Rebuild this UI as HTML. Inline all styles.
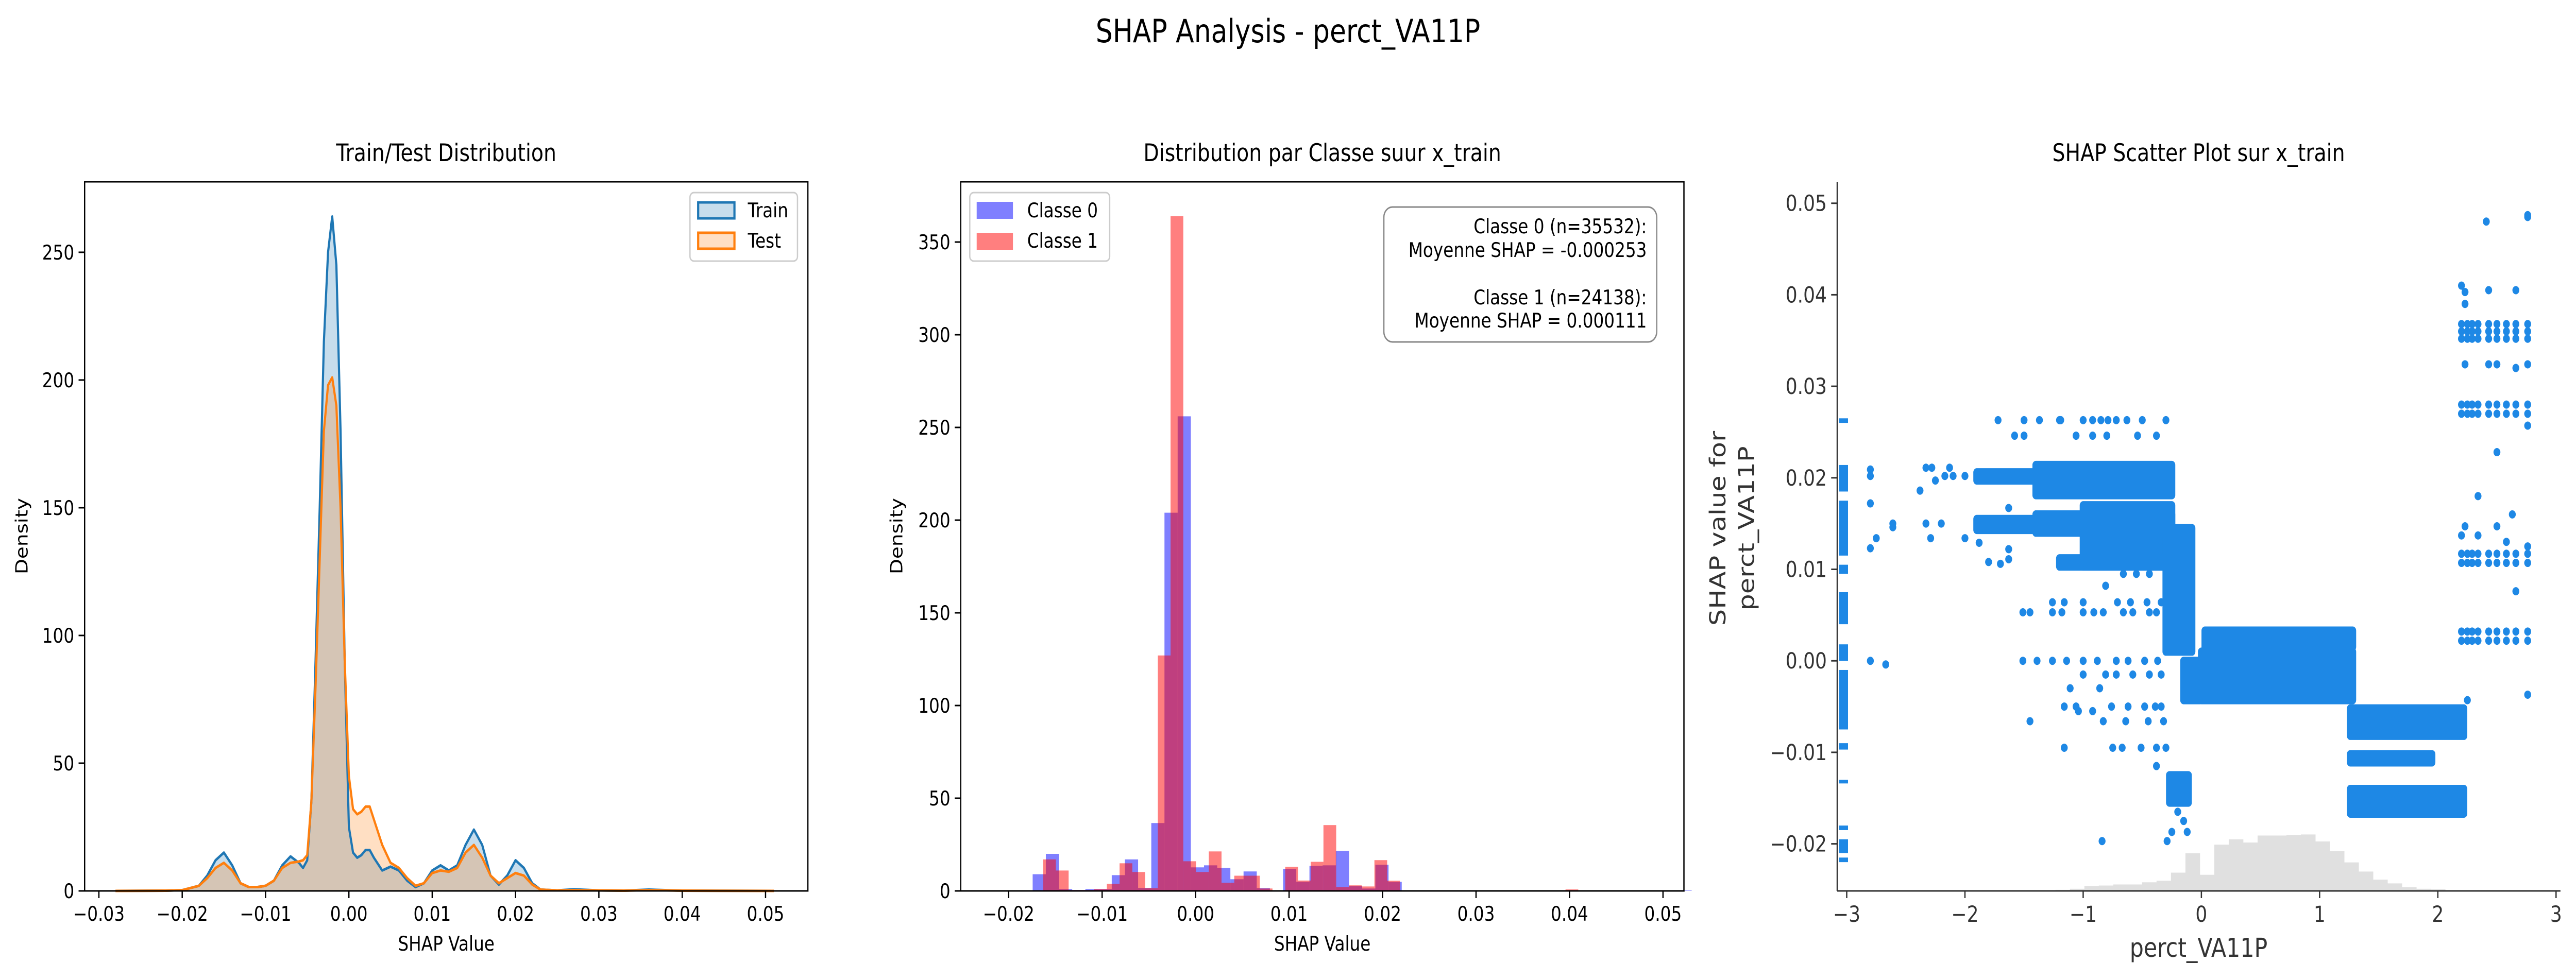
<!DOCTYPE html>
<html><head><meta charset="utf-8"><title>SHAP Analysis - perct_VA11P</title>
<style>
html,body{margin:0;padding:0;background:#fff;width:100%;height:100%;overflow:hidden;}
svg{display:block;position:absolute;left:0;top:0;width:100vw;height:100vh;font-family:"DejaVu Sans","Liberation Sans",sans-serif;}
</style></head>
<body>
<svg id="fig" viewBox="0 0 5966 1903" preserveAspectRatio="none" xmlns="http://www.w3.org/2000/svg">
<rect width="5966" height="1903" fill="#fff"/>
<text x="2983" y="82" font-size="62" text-anchor="middle">SHAP Analysis - perct_VA11P</text>
<g id="p1"></g>
<g id="p2"></g>
<g id="p3"></g>
</svg>
<script>
// ---------- Panel 1 data (KDE) ----------
const kdeX = [-0.028,-0.022,-0.02,-0.018,-0.017,-0.016,-0.015,-0.014,-0.013,-0.012,-0.011,-0.01,-0.009,-0.008,-0.007,-0.006,-0.0055,-0.005,-0.0045,-0.004,-0.0035,-0.003,-0.0025,-0.002,-0.0015,-0.001,-0.0005,0,0.0005,0.001,0.0015,0.002,0.0025,0.003,0.004,0.005,0.006,0.007,0.008,0.009,0.01,0.011,0.012,0.013,0.014,0.015,0.016,0.017,0.018,0.019,0.02,0.021,0.022,0.023,0.025,0.027,0.03,0.033,0.036,0.04,0.045,0.051];
const trainDensity = [0,0.1,0.3,2,6,12,15,10,3,1.5,1.5,2,4,10,13.5,11,9,12,35,90,150,215,250,264,245,180,90,25,15,13,14,16,16,13,8,9.5,8,4,1.5,3,8,10,8,10,18,24,18,6,2.5,6,12,9,3,0.5,0.2,0.6,0.2,0.1,0.5,0.1,0.05,0];
const testDensity = [0,0.1,0.3,2,5,9,11,8,3,1.5,1.5,2,4,9,11,11.5,12,14,35,80,130,180,198,201,190,150,90,45,32,30,31,33,33,28,18,11,9,5,2,3,7,8,7.5,9,15,18,13,6,3,5,7,6,2.5,0.5,0.2,0.3,0.2,0.1,0.3,0.1,0.05,0];
const p1XTicks = [-0.03,-0.02,-0.01,0.00,0.01,0.02,0.03,0.04,0.05];
const p1XTickLabels = ["\u22120.03","\u22120.02","\u22120.01","0.00","0.01","0.02","0.03","0.04","0.05"];
const p1YTicks = [0,50,100,150,200,250];

// ---------- Panel 2 data (histograms) ----------
const class0Start = -0.01743, class0Width = 0.00141;
const class0Heights = [9,20,1,0.5,1,1,8.5,17,1.6,36.6,204,256,12.7,13.8,12.4,6.3,10.5,1.5,0.3,11.9,5,13.5,13.8,21.6,2.5,1.3,14.1,4.9,0,0,0,0,0.4,0.4,0,0,0,0,0,0,0,0,0,0,0,0,0,0,0,0.2];
const class1Start = -0.01631, class1Width = 0.001363;
const class1Heights = [17,11,0.5,0.5,1,3.8,14.9,10.2,1.5,127,364,16,10.2,21.3,4.4,8.2,8.2,1.3,0.1,13,5.6,15.7,35.5,2.1,3,2.4,16.6,5.5,0,0,0,0,0,0.4,0.4,0,0,0,0,0,0,0.8,0,0,0,0,0,0,0,0];
const p2XTicks = [-0.02,-0.01,0.00,0.01,0.02,0.03,0.04,0.05];
const p2XTickLabels = ["\u22120.02","\u22120.01","0.00","0.01","0.02","0.03","0.04","0.05"];
const p2YTicks = [0,50,100,150,200,250,300,350];

// ---------- Panel 3 data (SHAP scatter) ----------
const clusterX0 = [-1.40,-1.00,-1.90,-1.90,-0.30,0.03,0.00,-0.15,1.26,1.26,1.26,-0.27,-1.40,-1.20];
const clusterX1 = [-0.25,-0.25,-1.40,-1.40,-0.08,1.28,1.28,-0.01,2.22,2.22,1.95,-0.11,-0.25,-0.25];
const clusterY0 = [0.0181,0.0103,0.0143,0.0197,0.0010,0.0015,-0.0043,-0.0043,-0.0082,-0.0167,-0.0111,-0.0155,0.0140,0.0103];
const clusterY1 = [0.0214,0.0170,0.0155,0.0206,0.0145,0.0033,0.0010,0.0000,-0.0052,-0.0140,-0.0102,-0.0125,0.0160,0.0112];
const rugY0 = [0.0260,0.0185,0.0115,0.0095,0.0040,0.0000,-0.0075,-0.0097,-0.0134,-0.0185,-0.0210,-0.0220];
const rugY1 = [0.0265,0.0214,0.0175,0.0105,0.0075,0.0018,-0.0010,-0.0090,-0.0130,-0.0180,-0.0195,-0.0215];
const ptX = [-1.72,-1.50,-1.37,-1.20,-1.19,-1.00,-0.92,-0.85,-0.79,-0.72,-0.63,-0.50,-0.30,
 -1.58,-1.50,-1.06,-0.92,-0.80,-0.54,-0.38,
 -2.80,-2.80,-2.80,-2.80,-2.75,-2.61,-2.61,-2.38,-2.33,-2.28,-2.25,-2.33,-2.29,-2.20,-2.17,-2.13,-2.10,-2.00,-2.00,-1.88,-1.80,-1.70,-1.63,-1.63,-1.63,-2.80,-2.67,
 -1.51,-1.45,-1.26,-1.18,-1.00,-0.91,-0.83,-0.66,-0.58,-0.44,-0.38,
 -1.26,-1.16,-1.00,-0.71,-0.60,-0.46,-0.34,
 -1.51,-1.39,-1.26,-1.14,-1.00,-0.88,-0.72,-0.62,-0.48,-0.37,
 -1.00,-0.81,-0.72,-0.58,-0.44,-0.34,
 -1.16,-1.06,-0.76,-0.62,-0.48,-0.39,-0.34,-1.04,-0.92,-0.86,
 -1.45,-0.83,-0.64,-0.45,-0.32,
 -1.16,-0.75,-0.67,-0.51,-0.38,-0.30,-0.38,-0.84,-0.29,-1.11,-0.81,-0.66,-0.55,-0.44,
 -0.20,-0.15,-0.25,-0.12,
 2.41,2.76,2.76,2.20,2.23,2.43,2.66,2.23,2.23,2.43,2.50,2.66,2.76,2.50,2.34,2.63,2.34,2.20,2.23,2.50,2.58,2.66,2.76,2.76,2.25,2.76];
const ptY = [0.0263,0.0263,0.0263,0.0263,0.0263,0.0263,0.0263,0.0263,0.0263,0.0263,0.0263,0.0263,0.0263,
 0.0246,0.0246,0.0246,0.0246,0.0246,0.0246,0.0246,
 0.0209,0.0202,0.0172,0.0123,0.0134,0.0150,0.0146,0.0186,0.0211,0.0211,0.0197,0.0150,0.0134,0.0150,0.0202,0.0211,0.0202,0.0202,0.0134,0.0129,0.0108,0.0106,0.0111,0.0167,0.0122,0.0000,-0.0004,
 0.0053,0.0053,0.0053,0.0053,0.0053,0.0053,0.0053,0.0053,0.0053,0.0053,0.0053,
 0.0064,0.0064,0.0064,0.0064,0.0064,0.0064,0.0064,
 0.0000,0.0000,0.0000,0.0000,0.0000,0.0000,0.0000,0.0000,0.0000,0.0000,
 -0.0015,-0.0015,-0.0015,-0.0015,-0.0015,-0.0015,
 -0.0050,-0.0050,-0.0050,-0.0050,-0.0050,-0.0050,-0.0050,-0.0055,-0.0055,-0.0030,
 -0.0066,-0.0066,-0.0066,-0.0066,-0.0066,
 -0.0095,-0.0095,-0.0095,-0.0095,-0.0095,-0.0095,-0.0115,-0.0197,-0.0197,-0.0030,0.0082,0.0095,0.0095,0.0095,
 -0.0165,-0.0175,-0.0187,-0.0187,
 0.0480,0.0487,0.0485,0.0410,0.0403,0.0405,0.0405,0.0390,0.0324,0.0324,0.0324,0.0320,0.0324,0.0228,0.0180,0.0160,0.0137,0.0137,0.0147,0.0147,0.0130,0.0076,0.0257,-0.0037,-0.0043,0.0125];
const gridColX = [2.20,2.25,2.29,2.34,2.43,2.50,2.58,2.66,2.76];
const gridRowY = [0.0368,0.0360,0.0352,0.0280,0.0270,0.0117,0.0107,0.0032,0.0022];
const histStart = -1.234, histWidth = 0.1221;
const histCounts = [2,4,9,10,12,12,16,19,34,70,30,86,96,90,103,103,104,105,92,74,53,36,21,14,7,4,3];
const p3XTicks = [-3,-2,-1,0,1,2,3];
const p3XTickLabels = ["\u22123","\u22122","\u22121","0","1","2","3"];
const p3YTicks = [-0.02,-0.01,0.00,0.01,0.02,0.03,0.04,0.05];
const p3YTickLabels = ["\u22120.02","\u22120.01","0.00","0.01","0.02","0.03","0.04","0.05"];

const NS = "http://www.w3.org/2000/svg";
function mk(parent, tag, attrs, text){
  const e = document.createElementNS(NS, tag);
  for (const k in attrs) e.setAttribute(k, attrs[k]);
  if (text !== undefined) e.textContent = text;
  parent.appendChild(e);
  return e;
}

// ===== Panel 1 =====
(function(){
  const g = document.getElementById('p1');
  const L=196,R=1871,T=353,B=1730;
  const sx = v => 229 + (v + 0.03) * 19300;
  const sy = d => B - d * (1377 / 277.6);
  function areaPath(ys){
    let d = 'M' + sx(kdeX[0]) + ',' + sy(0);
    kdeX.forEach((x,i)=>{ d += ' L' + sx(x) + ',' + sy(ys[i]); });
    d += ' L' + sx(kdeX[kdeX.length-1]) + ',' + sy(0) + ' Z';
    return d;
  }
  function linePath(ys){
    return kdeX.map((x,i)=>(i?'L':'M') + sx(x) + ',' + sy(ys[i])).join(' ');
  }
  let e;
  e = mk(g,'path',{d:areaPath(trainDensity),fill:'#1f77b4','fill-opacity':0.25});
  
  
  e = mk(g,'path',{d:areaPath(testDensity),fill:'#ff7f0e','fill-opacity':0.25});
  
  
  e = mk(g,'path',{d:linePath(trainDensity),fill:'none',stroke:'#1f77b4','stroke-width':5,'stroke-linejoin':'round'});
  
  
  e = mk(g,'path',{d:linePath(testDensity),fill:'none',stroke:'#ff7f0e','stroke-width':5,'stroke-linejoin':'round'});
  
  
  e = mk(g,'rect',{x:L,y:T,width:R-L,height:B-T,fill:'none',stroke:'#000','stroke-width':3});
  
  
  p1XTicks.forEach((v,i)=>{
    const t = mk(g,'line',{x1:sx(v),x2:sx(v),y1:B,y2:B+14,stroke:'#000','stroke-width':3});
    
    
    const l = mk(g,'text',{x:sx(v),y:B+58,'font-size':39,'text-anchor':'middle'},p1XTickLabels[i]);
    
    
  });
  p1YTicks.forEach(v=>{
    const t = mk(g,'line',{x1:L-14,x2:L,y1:sy(v),y2:sy(v),stroke:'#000','stroke-width':3});
    
    
    const l = mk(g,'text',{x:L-24,y:sy(v)+14,'font-size':39,'text-anchor':'end'},String(v));
    
    
  });
  e = mk(g,'text',{x:(L+R)/2,y:1846,'font-size':39,'text-anchor':'middle'},'SHAP Value');
  
  
  e = mk(g,'text',{x:0,y:0,'font-size':39,'text-anchor':'middle',transform:'translate(64,1041) rotate(-90)'},'Density');
  
  
  e = mk(g,'text',{x:(L+R)/2,y:313,'font-size':47,'text-anchor':'middle'},'Train/Test Distribution');
  
  
  const lg = mk(g,'g',{});
  
  
  mk(lg,'rect',{x:1598,y:374,width:249,height:133,rx:9,fill:'#fff','fill-opacity':0.8,stroke:'#ccc','stroke-width':3});
  e = mk(lg,'rect',{x:1617,y:393,width:84,height:31,fill:'#1f77b4','fill-opacity':0.25,stroke:'#1f77b4','stroke-width':5});
  
  
  mk(lg,'text',{x:1732,y:422,'font-size':39},'Train');
  e = mk(lg,'rect',{x:1617,y:452,width:84,height:31,fill:'#ff7f0e','fill-opacity':0.25,stroke:'#ff7f0e','stroke-width':5});
  
  
  mk(lg,'text',{x:1732,y:481,'font-size':39},'Test');
})();

// ===== Panel 2 =====
(function(){
  const g = document.getElementById('p2');
  const L=2225,R=3900,T=353,B=1730;
  const sx = v => 2769 + v * 21650;
  const sy = d => B - d * 3.6;
  function drawHist(start,width,heights,color,name){
    heights.forEach((h,i)=>{
      if (h<=0) return;
      const x0 = sx(start + i*width), x1 = sx(start + (i+1)*width);
      const r = mk(g,'rect',{x:x0,y:sy(h),width:x1-x0,height:B-sy(h),fill:color,'fill-opacity':0.5});
      
      
    });
  }
  drawHist(class0Start,class0Width,class0Heights,'#0000ff','bar-classe-0');
  drawHist(class1Start,class1Width,class1Heights,'#ff0000','bar-classe-1');
  let e = mk(g,'rect',{x:L,y:T,width:R-L,height:B-T,fill:'none',stroke:'#000','stroke-width':3});
  
  
  p2XTicks.forEach((v,i)=>{
    const t = mk(g,'line',{x1:sx(v),x2:sx(v),y1:B,y2:B+14,stroke:'#000','stroke-width':3});
    
    
    const l = mk(g,'text',{x:sx(v),y:B+58,'font-size':39,'text-anchor':'middle'},p2XTickLabels[i]);
    
    
  });
  p2YTicks.forEach(v=>{
    const t = mk(g,'line',{x1:L-14,x2:L,y1:sy(v),y2:sy(v),stroke:'#000','stroke-width':3});
    
    
    const l = mk(g,'text',{x:L-24,y:sy(v)+14,'font-size':39,'text-anchor':'end'},String(v));
    
    
  });
  e = mk(g,'text',{x:(L+R)/2,y:1846,'font-size':39,'text-anchor':'middle'},'SHAP Value');
  
  
  e = mk(g,'text',{x:0,y:0,'font-size':39,'text-anchor':'middle',transform:'translate(2090,1041) rotate(-90)'},'Density');
  
  
  e = mk(g,'text',{x:(L+R)/2,y:313,'font-size':47,'text-anchor':'middle'},'Distribution par Classe suur x_train');
  
  
  const lg = mk(g,'g',{});
  
  
  mk(lg,'rect',{x:2246,y:374,width:324,height:133,rx:9,fill:'#fff','fill-opacity':0.8,stroke:'#ccc','stroke-width':3});
  e = mk(lg,'rect',{x:2262,y:392,width:84,height:33,fill:'#0000ff','fill-opacity':0.5});
  
  
  mk(lg,'text',{x:2379,y:422,'font-size':39},'Classe 0');
  e = mk(lg,'rect',{x:2262,y:452,width:84,height:33,fill:'#ff0000','fill-opacity':0.5});
  
  
  mk(lg,'text',{x:2379,y:481,'font-size':39},'Classe 1');
  const tb = mk(g,'g',{});
  
  
  mk(tb,'rect',{x:3205,y:402,width:632,height:262,rx:20,fill:'#fff','fill-opacity':0.8,stroke:'#888','stroke-width':3});
  const lines = ['Classe 0 (n=35532):','Moyenne SHAP = -0.000253','Classe 1 (n=24138):','Moyenne SHAP = 0.000111'];
  const ys = [453,499,591,636];
  lines.forEach((s,i)=>{ mk(tb,'text',{x:3814,y:ys[i],'font-size':39,'text-anchor':'end'},s); });
})();

// ===== Panel 3 =====
(function(){
  const g = document.getElementById('p3');
  const L=4255,R=5930,T=353,B=1730;
  const sx = v => 4277 + (v + 3) * 273.8;
  const sy = v => 1283.2 - v * 17770;
  const blue = '#1E88E5';
  histCounts.forEach((c,i)=>{
    const x0 = sx(histStart + i*histWidth), x1 = sx(histStart + (i+1)*histWidth);
    const r = mk(g,'rect',{x:x0,y:B - c*1.044,width:x1-x0+0.5,height:c*1.044,fill:'#e0e0e0'});
    
    
  });
  rugY0.forEach((y0,i)=>{
    const r = mk(g,'rect',{x:4259,y:sy(rugY1[i]),width:21,height:Math.max(6,sy(rugY0[i])-sy(rugY1[i])),fill:blue});
    
    
  });
  clusterX0.forEach((x0,i)=>{
    const r = mk(g,'rect',{x:sx(x0)-8,y:sy(clusterY1[i])-8,width:sx(clusterX1[i])-sx(x0)+16,height:sy(clusterY0[i])-sy(clusterY1[i])+16,rx:8,fill:blue});
    
    
  });
  ptX.forEach((x,i)=>{
    const c = mk(g,'circle',{cx:sx(x),cy:sy(ptY[i]),r:8,fill:blue});
    
    
  });
  gridColX.forEach(x=>{
    gridRowY.forEach(y=>{
      const c = mk(g,'circle',{cx:sx(x),cy:sy(y),r:8,fill:blue});
      
      
    });
  });
  let e = mk(g,'line',{x1:L,x2:L,y1:T,y2:B,stroke:'#333','stroke-width':3});
  
  
  e = mk(g,'line',{x1:L,x2:R,y1:B,y2:B,stroke:'#333','stroke-width':3});
  
  
  p3XTicks.forEach((v,i)=>{
    const t = mk(g,'line',{x1:sx(v),x2:sx(v),y1:B,y2:B+14,stroke:'#333','stroke-width':3});
    
    
    const l = mk(g,'text',{x:sx(v),y:B+60,'font-size':43,'text-anchor':'middle',fill:'#333'},p3XTickLabels[i]);
    
    
  });
  p3YTicks.forEach((v,i)=>{
    const t = mk(g,'line',{x1:L-14,x2:L,y1:sy(v),y2:sy(v),stroke:'#333','stroke-width':3});
    
    
    const l = mk(g,'text',{x:L-24,y:sy(v)+15,'font-size':43,'text-anchor':'end',fill:'#333'},p3YTickLabels[i]);
    
    
  });
  e = mk(g,'text',{x:5092,y:1858,'font-size':51,'text-anchor':'middle',fill:'#333'},'perct_VA11P');
  
  
  e = mk(g,'text',{x:0,y:0,'font-size':51,'text-anchor':'middle',fill:'#333',transform:'translate(3996,1026) rotate(-90)'},'SHAP value for');
  
  
  e = mk(g,'text',{x:0,y:0,'font-size':51,'text-anchor':'middle',fill:'#333',transform:'translate(4062,1026) rotate(-90)'},'perct_VA11P');
  
  
  e = mk(g,'text',{x:5092,y:313,'font-size':47,'text-anchor':'middle'},'SHAP Scatter Plot sur x_train');
  
  
})();
</script>
</body></html>
